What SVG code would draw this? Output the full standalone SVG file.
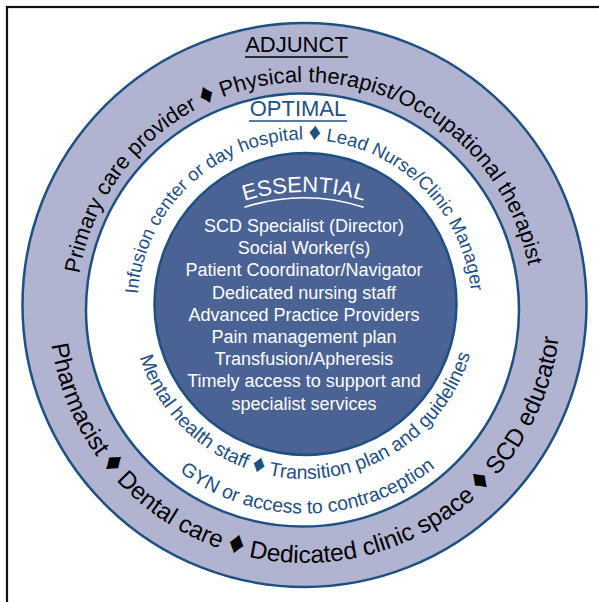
<svg xmlns="http://www.w3.org/2000/svg" xmlns:xlink="http://www.w3.org/1999/xlink" width="599" height="602" viewBox="0 0 599 602">
<style>
.ring{stroke:#1f5082;stroke-width:2.5}
.t{font-family:"Liberation Sans",Arial,Helvetica,sans-serif}
.blk{fill:#000}
.blu{fill:#1f5082}
.wht{fill:#fff}
.dia{font-size:1.3em}
.ul{fill:none;stroke-width:1.6}
</style>
<defs>
<path id="pTopOuter" d="M308.48,537.97 A228,228 0 0 1 300.52,82.03 A228,228 0 0 1 308.48,537.97"/>
<path id="pBotOuter" d="M300.93,51.02 A256,256 0 0 0 308.07,562.98 A256,256 0 0 0 300.93,51.02"/>
<path id="pTopMid" d="M305.97,476.49 A168.5,168.5 0 0 1 303.03,139.51 A168.5,168.5 0 0 1 305.97,476.49"/>
<path id="pBotMid1" d="M302.98,131.01 A174,174 0 0 0 306.02,478.99 A174,174 0 0 0 302.98,131.01"/>
<path id="pBotMid2" d="M300.86,96.53 A208.5,208.5 0 0 0 308.14,513.47 A208.5,208.5 0 0 0 300.86,96.53"/>
<path id="pEss" d="M304,600 A204,204 0 0 1 304,192 A204,204 0 0 1 304,600"/>
</defs>
<rect width="599" height="602" fill="#fff"/>
<g id="frame">
<rect x="7" y="7" width="640" height="640" fill="none" stroke="#111" stroke-width="2.2"/>
</g>
<g id="adjunct">
<circle class="ring" cx="304.5" cy="305" r="282" fill="#b0b4d0"/>
<text class="t blk" x="296.5" y="52" font-size="22" text-anchor="middle">ADJUNCT</text>
<line x1="245" y1="57" x2="348" y2="57" class="ul" stroke="#000"/>
<text class="t blk" font-size="22"><textPath xlink:href="#pTopOuter" href="#pTopOuter" startOffset="50%" text-anchor="middle">Primary care provider <tspan class="dia">♦</tspan> Physical therapist/Occupational therapist</textPath></text>
<text class="t blk" font-size="24.5"><textPath xlink:href="#pBotOuter" href="#pBotOuter" startOffset="50%" text-anchor="middle">Pharmacist <tspan class="dia">♦</tspan> Dental care <tspan class="dia">♦</tspan> Dedicated clinic space <tspan class="dia">♦</tspan> SCD educator</textPath></text>
</g>
<g id="optimal">
<circle class="ring" cx="302.5" cy="310" r="216.5" fill="#fff"/>
<text class="t blu" x="298" y="116" font-size="22" text-anchor="middle">OPTIMAL</text>
<line x1="249" y1="121" x2="347" y2="121" class="ul" stroke="#1f5082"/>
<text class="t blu" font-size="18.6"><textPath xlink:href="#pTopMid" href="#pTopMid" startOffset="50%" text-anchor="middle">Infusion center or day hospital <tspan class="dia">♦</tspan> Lead Nurse/Clinic Manager</textPath></text>
<text class="t blu" font-size="19.5"><textPath xlink:href="#pBotMid1" href="#pBotMid1" startOffset="50%" text-anchor="middle">Mental health staff <tspan class="dia">♦</tspan> Transition plan and guidelines</textPath></text>
<text class="t blu" font-size="19.5"><textPath xlink:href="#pBotMid2" href="#pBotMid2" startOffset="50%" text-anchor="middle">GYN or access to contraception</textPath></text>
</g>
<g id="essential">
<circle class="ring" cx="305.5" cy="304" r="151" fill="#4a6394"/>
<text class="t wht" font-size="22"><textPath xlink:href="#pEss" href="#pEss" startOffset="50%" text-anchor="middle">ESSENTIAL</textPath></text>
<path d="M244.45,207.17 A198,198 0 0 1 363.55,207.17" class="ul" stroke="#fff"/>
<g class="t wht" font-size="18" text-anchor="middle">
<text x="304" y="232">SCD Specialist (Director)</text>
<text x="304" y="254.2">Social Worker(s)</text>
<text x="304" y="276.4">Patient Coordinator/Navigator</text>
<text x="304" y="298.6">Dedicated nursing staff</text>
<text x="304" y="320.8">Advanced Practice Providers</text>
<text x="304" y="343">Pain management plan</text>
<text x="304" y="365.2">Transfusion/Apheresis</text>
<text x="304" y="387.4">Timely access to support and</text>
<text x="304" y="409.6">specialist services</text>
</g>
</g>
</svg>
